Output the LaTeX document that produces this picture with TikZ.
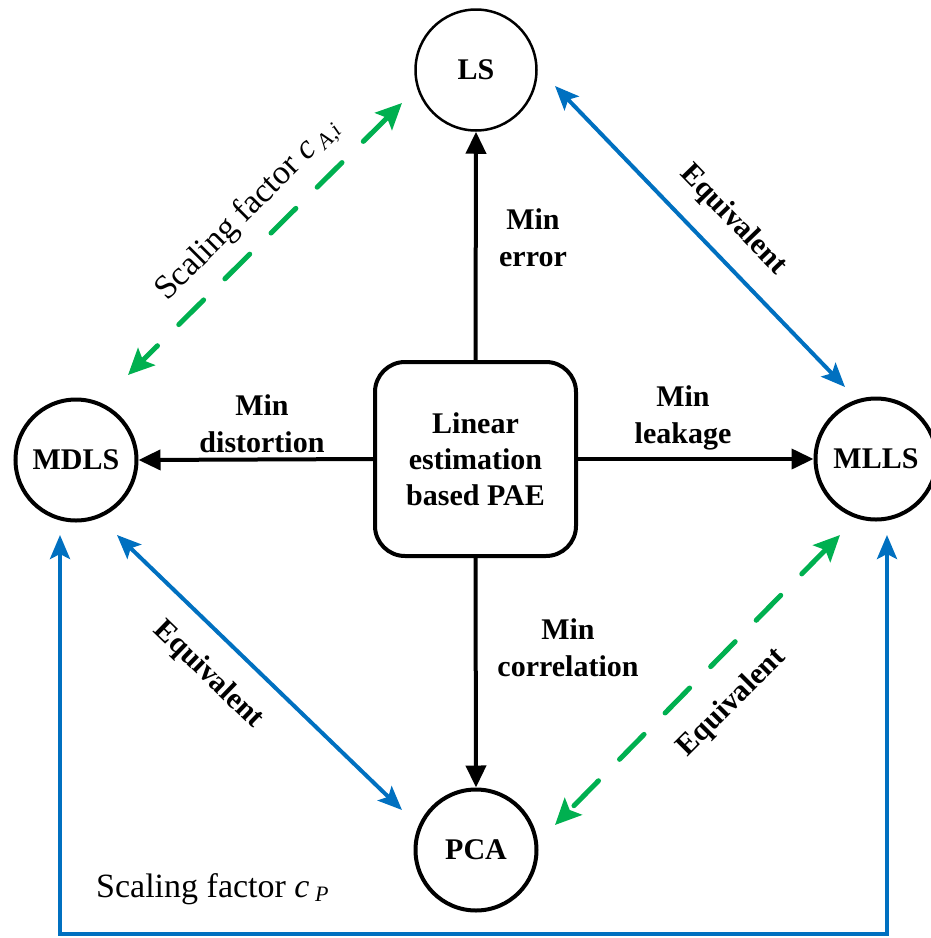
\documentclass[tikz,border=0pt]{standalone}
\usepackage{fontspec}
\setmainfont{LiberationSerif}[Extension=.ttf,UprightFont=*-Regular,BoldFont=*-Bold,
  ItalicFont=*-Italic,BoldItalicFont=*-BoldItalic]
\usetikzlibrary{arrows.meta,calc}
\definecolor{eqblue}{RGB}{0,112,192}
\definecolor{eqgreen}{RGB}{0,176,80}
\begin{document}
\begin{tikzpicture}[x=1pt,y=-1pt,
  method/.style={circle,draw,line width=4pt,minimum size=121pt,inner sep=0pt,
    font=\rmfamily\fontsize{30}{36}\selectfont\bfseries},
  core/.style={draw,line width=4pt,rounded corners=30pt,minimum width=201pt,
    minimum height=194pt,align=center,font=\rmfamily\fontsize{30}{36}\selectfont\bfseries},
  crit/.style={align=center,inner sep=0pt,font=\rmfamily\fontsize{30}{37}\selectfont\bfseries},
  scaletext/.style={inner sep=0pt,font=\rmfamily\fontsize{34}{40}\selectfont},
  flow/.style={line width=4pt,-{Triangle[length=22pt,width=20pt]}},
  equiv/.style={draw=eqblue,line width=4pt,
    {Stealth[length=24pt,width=20pt,inset=5pt]}-{Stealth[length=24pt,width=20pt,inset=5pt]}},
  scaling/.style={draw=eqgreen,line width=5pt,line cap=round,dash pattern=on 35pt off 30pt,
    {Stealth[length=26pt,width=24pt,inset=5pt]}-{Stealth[length=26pt,width=24pt,inset=5pt]}},
]
\useasboundingbox (0,0) rectangle (930,938);

% estimators
\node[method,line width=2.5pt] (LS) at (476,70) {LS};
\node[method] (MDLS) at (76,460) {MDLS};
\node[method] (MLLS) at (876,459) {MLLS};
\node[method] (PCA) at (476,850) {PCA};
\node[core] (PAE) at (475.5,459) {Linear\\estimation\\based PAE};

% criteria
\draw[flow] (PAE.north) -- (LS.south);
\draw[flow] (PAE.west) -- (MDLS.east);
\draw[flow] (PAE.east) -- (MLLS.west);
\draw[flow] (PAE.south) -- (PCA.north);

\node[crit] (lerr) at (533,238) {Min\\error};
\node[crit] (ldist) at (262,424) {Min\\distortion};
\node[crit] (lleak) at (683,418) {Min\\leakage};
\node[crit] (lcorr) at (568,648) {Min\\correlation};

% end points of the equivalence links
\coordinate (ls-r) at ($(LS.center)+(79,16)$);
\coordinate (mlls-t) at ($(MLLS.center)+(-31,-72)$);
\coordinate (ls-l) at ($(LS.center)+(-74,33)$);
\coordinate (mdls-t) at ($(MDLS.center)+(52,-85)$);
\coordinate (mdls-b) at ($(MDLS.center)+(41,75)$);
\coordinate (pca-l) at ($(PCA.center)+(-74,-40)$);
\coordinate (mlls-b) at ($(MLLS.center)+(-36,76)$);
\coordinate (pca-r) at ($(PCA.center)+(79,-25)$);
\coordinate (mdls-s) at ($(MDLS.center)+(-16,75)$);
\coordinate (mlls-s) at ($(MLLS.center)+(11,76)$);
\coordinate (floor) at (0,934);

\draw[equiv] (ls-r) -- (mlls-t);
\draw[equiv] (mdls-b) -- (pca-l);
\draw[scaling] (ls-l) -- (mdls-t);
\draw[scaling] (mlls-b) -- (pca-r);
\draw[equiv] (mdls-s) -- (mdls-s |- floor) -- (mlls-s |- floor) -- (mlls-s);

\node[crit,rotate=-46] (eq1) at (733,220) {Equivalent};
\node[crit,rotate=-44] (eq2) at (208,675) {Equivalent};
\node[crit,rotate=45] (eq3) at (732,703) {Equivalent};
\node[scaletext,rotate=45] (sf1) at (248,210) {Scaling factor \textit{c}\,\raisebox{-0.3ex}{\fontsize{22}{24}\selectfont\textit{A,i}}};
\node[scaletext,anchor=base west] (sf2) at (96,897) {Scaling factor \textit{c}\,\raisebox{-0.3ex}{\fontsize{22}{24}\selectfont\textit{P}}};
\end{tikzpicture}
\end{document}
